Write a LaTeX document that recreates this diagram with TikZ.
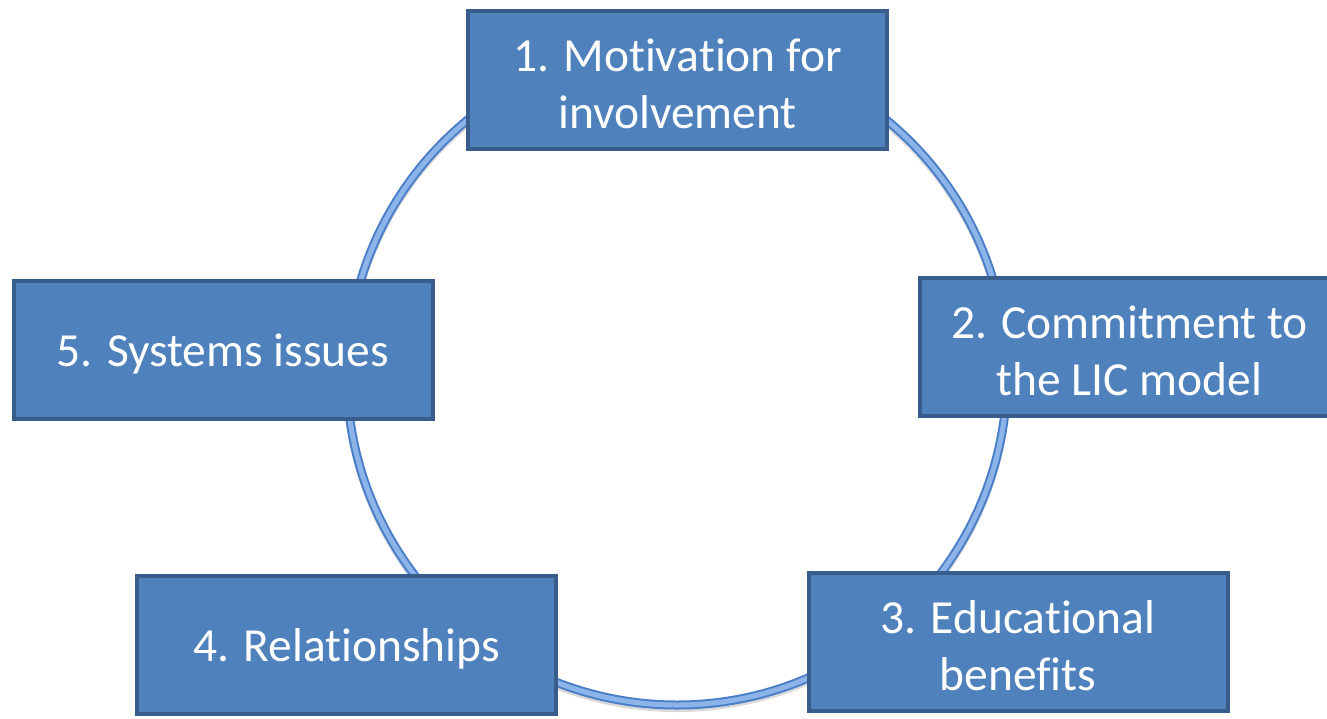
\documentclass[tikz,border=0pt]{standalone}
\usepackage{fontspec}
\setmainfont{Carlito}[Ligatures={NoCommon}]
\usepackage{tikz}
\usetikzlibrary{arrows,shapes}
\definecolor{boxfill}{HTML}{4F81BD}
\definecolor{boxline}{HTML}{385D8A}
\definecolor{ringdark}{HTML}{4A7EC8}
\definecolor{ringlight}{HTML}{8DB4E8}
\tikzstyle{stage}=[rectangle,fill=boxfill,draw=boxline,line width=4pt,
    minimum width=419pt,minimum height=138pt,inner sep=0pt]
\tikzstyle{stage text}=[text=white,align=center,inner sep=0pt,yshift=-4pt,
    font=\fontsize{47.5}{57}\selectfont]
\tikzstyle{ring outer}=[draw=ringdark,line width=9pt]
\tikzstyle{ring inner}=[draw=ringlight,line width=5pt]

\begin{document}
\begin{tikzpicture}[x=1pt,y=-1pt]
    \useasboundingbox (0,0) rectangle (1327,718);
    \path[draw=black!15,line width=8pt] (677,378) circle (330);
    \path[ring outer] (677,375) circle (330);
    \path[ring inner] (677,375) circle (330);
    \foreach \pos/\name/\text in {{(677.5,79.5)/motiv/1. Motivation for\\involvement},
        {(1129.5,346.5)/commit/2. Commitment to\\the LIC model},
        {(1018,642)/edu/3. Educational\\benefits},
        {(346.5,645)/rel/4. Relationships},
        {(223,349.5)/sys/5. Systems issues}}
        {
        \node[stage] (\name) at \pos {};
        \node[stage text] at (\name) {\text};
        }
\end{tikzpicture}
\end{document}
